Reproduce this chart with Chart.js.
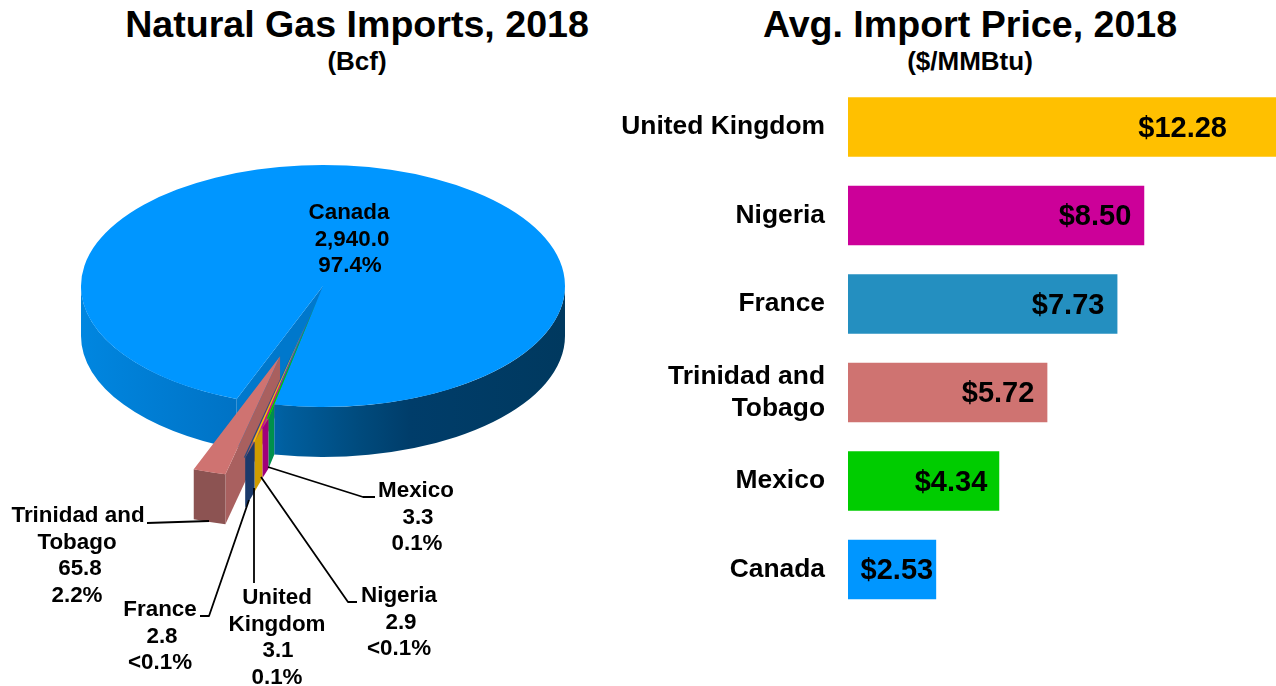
<!DOCTYPE html>
<html>
<head>
<meta charset="utf-8">
<script src="https://cdn.jsdelivr.net/npm/chart.js@4"></script>
<style>
html,body{margin:0;padding:0;background:#fff;width:1276px;height:686px;overflow:hidden}
canvas{position:absolute;top:0}
.t{position:absolute;font-family:"Liberation Sans",Arial,sans-serif;font-weight:bold;color:#000;text-align:center;white-space:nowrap;transform:translateX(-50%)}
.m{font-size:37.6px;line-height:44px;top:2px}
.s{font-size:26px;line-height:30px;top:46px}
</style>
</head>
<body>
<div class="t m" style="left:357px">Natural Gas Imports, 2018</div>
<div class="t s" style="left:357px">(Bcf)</div>
<div class="t m" style="left:970px">Avg. Import Price, 2018</div>
<div class="t s" style="left:970px">($/MMBtu)</div>
<canvas id="pie" width="600" height="686" style="left:0"></canvas>
<canvas id="bar" width="676" height="686" style="left:600px"></canvas>
<script>
// ---- data: imports ----
const pieCategories = ["Canada", "Mexico", "Nigeria", "United Kingdom", "France", "Trinidad and Tobago"];
const pieValues = [2940.0, 3.3, 2.9, 3.1, 2.8, 65.8];
const pieShares = ["97.4%", "0.1%", "<0.1%", "0.1%", "<0.1%", "2.2%"];
const pieValueText = ["2,940.0", "3.3", "2.9", "3.1", "2.8", "65.8"];
// ---- data: prices ----
const barCategories = ["United Kingdom", "Nigeria", "France", ["Trinidad and", "Tobago"], "Mexico", "Canada"];
const barValues = [12.28, 8.50, 7.73, 5.72, 4.34, 2.53];

const FONT = '"Liberation Sans", Arial, sans-serif';

// ---- styles and layout ----
const pieStyle = {
  cx: 323, cy: 286, squash: 0.5, depth: 50,
  explode: [0, 29, 49, 77, 110, 147],
  top: ["#0096FF", "#00CC00", "#CC0099", "#FFC000", "#254A80", "#CF7371"],
  wall: ["#0078CC", "#00904C", "#A0007A", "#CF9C00", "#1B3A6B", "#A9605F"],
  outer: [null, "#00904C", "#A0007A", "#CF9C00", "#1B3A6B", "#8C5352"]
};
const pieLabelStyle = [
  {x: [349, 352, 350], y: 213},
  {x: [416, 418, 417], y: 491},
  {x: [399, 401, 399], y: 596},
  {x: [277, 277, 278, 277], y: 598},
  {x: [160, 162, 160], y: 610},
  {x: [78, 77, 80, 77], y: 516}
];
const leaders = [
  null,
  [[268, 467], [363, 497], [375, 497]],
  [[261, 477], [348, 602], [357, 602]],
  [[254, 488], [254, 583]],
  [[249, 500], [209, 616], [200, 616]],
  [[209, 521], [147, 523]]
];
const barColors = ["#FFC000", "#CC0099", "#248FC0", "#CF7371", "#00CC00", "#0096FF"];
const barLabelInset = [49, 13, 13, 13, 12, 3];

// draws the flattened, extruded pie from the arc elements Chart.js laid out
const pie3d = {
  id: "pie3d",
  beforeDatasetsDraw(chart) {
    const ctx = chart.ctx, S = pieStyle, arcs = chart.getDatasetMeta(0).data;
    const geo = arcs.map((el, i) => {
      const mid = (el.startAngle + el.endAngle) / 2, e = S.explode[i];
      return {el, a0: el.startAngle, a1: el.endAngle, R: el.outerRadius,
        x: S.cx + Math.cos(mid) * e, y: S.cy + Math.sin(mid) * e * S.squash};
    });
    const corner = (g, a) => [g.x + Math.cos(a) * g.R, g.y + Math.sin(a) * g.R * S.squash];
    const outerWall = (g, a0, a1, fill) => {
      ctx.beginPath();
      ctx.ellipse(g.x, g.y, g.R, g.R * S.squash, 0, a0, a1);
      ctx.ellipse(g.x, g.y + S.depth, g.R, g.R * S.squash, 0, a1, a0, true);
      ctx.closePath(); ctx.fillStyle = fill; ctx.fill();
    };
    const strip = (p, q, fill) => {
      ctx.beginPath();
      ctx.moveTo(p[0], p[1]); ctx.lineTo(q[0], q[1]);
      ctx.lineTo(q[0], q[1] + S.depth); ctx.lineTo(p[0], p[1] + S.depth);
      ctx.closePath(); ctx.fillStyle = fill; ctx.fill();
    };
    const topFace = g => {
      ctx.save();
      ctx.translate(g.x, g.y); ctx.scale(1, S.squash); ctx.translate(-g.el.x, -g.el.y);
      g.el.draw(ctx);
      ctx.restore();
    };
    const can = geo[0];
    const grad = ctx.createLinearGradient(can.x - can.R, 0, can.x + can.R, 0);
    [[0, "#0086E0"], [0.33, "#0072C4"], [0.42, "#005F9F"], [0.58, "#004A7C"], [0.68, "#003D6A"], [1, "#00395F"]]
      .forEach(s => grad.addColorStop(s[0], s[1]));
    const TWO = Math.PI * 2;
    // far side of the notch and the left of the rim
    outerWall(can, can.a0, Math.PI, grad);
    strip([can.x, can.y], corner(can, can.a0), S.wall[0]);
    // Trinidad and Tobago
    const tt = geo[5];
    strip([tt.x, tt.y], corner(tt, tt.a0), S.wall[5]);
    outerWall(tt, tt.a0, tt.a1, S.outer[5]);
    // small slices: each wall runs out from the corner of the slice before it
    for (let i = 1; i <= 4; i++) {
      const prev = i === 1 ? corner(can, can.a1) : corner(geo[i - 1], geo[i - 1].a0);
      strip(prev, corner(geo[i], geo[i].a0), S.wall[i]);
    }
    // right of the rim, in front of the slices
    outerWall(can, 0, can.a1 - TWO, grad);
    topFace(can);
    for (let i = 4; i >= 1; i--) topFace(geo[i]);
    topFace(tt);
    return false;
  },
  afterDraw(chart) {
    const ctx = chart.ctx;
    ctx.save();
    ctx.strokeStyle = "#000"; ctx.lineWidth = 1.8; ctx.lineJoin = "round";
    leaders.forEach(pts => {
      if (!pts) return;
      ctx.beginPath();
      pts.forEach((p, i) => i ? ctx.lineTo(p[0], p[1]) : ctx.moveTo(p[0], p[1]));
      ctx.stroke();
    });
    ctx.fillStyle = "#000"; ctx.textAlign = "center"; ctx.textBaseline = "middle";
    ctx.font = "bold 22.4px " + FONT;
    const nameLines = [["Canada"], ["Mexico"], ["Nigeria"], ["United", "Kingdom"], ["France"], ["Trinidad and", "Tobago"]];
    pieCategories.forEach((c, i) => {
      const lines = nameLines[i].concat([pieValueText[i], pieShares[i]]);
      const st = pieLabelStyle[i];
      lines.forEach((t, k) => ctx.fillText(t, st.x[k], st.y + k * 26.6));
    });
    ctx.restore();
  }
};

const barLabels = {
  id: "barLabels",
  afterDatasetsDraw(chart) {
    const ctx = chart.ctx;
    ctx.save();
    ctx.fillStyle = "#000"; ctx.textAlign = "right"; ctx.textBaseline = "middle";
    ctx.font = "bold 29px " + FONT;
    chart.getDatasetMeta(0).data.forEach((b, i) => {
      ctx.fillText("$" + barValues[i].toFixed(2), b.x - barLabelInset[i], b.y + 1.5);
    });
    ctx.restore();
  }
};

new Chart(document.getElementById("pie"), {
  type: "pie",
  data: {labels: pieCategories, datasets: [{data: pieValues, backgroundColor: pieStyle.top, borderWidth: 0}]},
  options: {
    responsive: false, animation: false, rotation: 200.9, radius: 242,
    plugins: {legend: {display: false}, tooltip: {enabled: false}}
  },
  plugins: [pie3d]
});

new Chart(document.getElementById("bar"), {
  type: "bar",
  data: {labels: barCategories, datasets: [{data: barValues, backgroundColor: barColors, borderWidth: 0,
    categoryPercentage: 1, barPercentage: 0.67}]},
  options: {
    indexAxis: "y", responsive: false, animation: false,
    layout: {padding: {top: 82.75, bottom: 72.25, left: 0, right: 0}},
    scales: {
      x: {display: false, min: 0, max: 12.28},
      y: {
        grid: {display: false, drawTicks: false}, border: {display: false},
        ticks: {color: "#000", padding: 23, font: {family: FONT, weight: "bold", size: 26.4}, autoSkip: false},
        afterFit(scale) { scale.width = 248; }
      }
    },
    plugins: {legend: {display: false}, tooltip: {enabled: false}}
  },
  plugins: [barLabels]
});
</script>
</body>
</html>
